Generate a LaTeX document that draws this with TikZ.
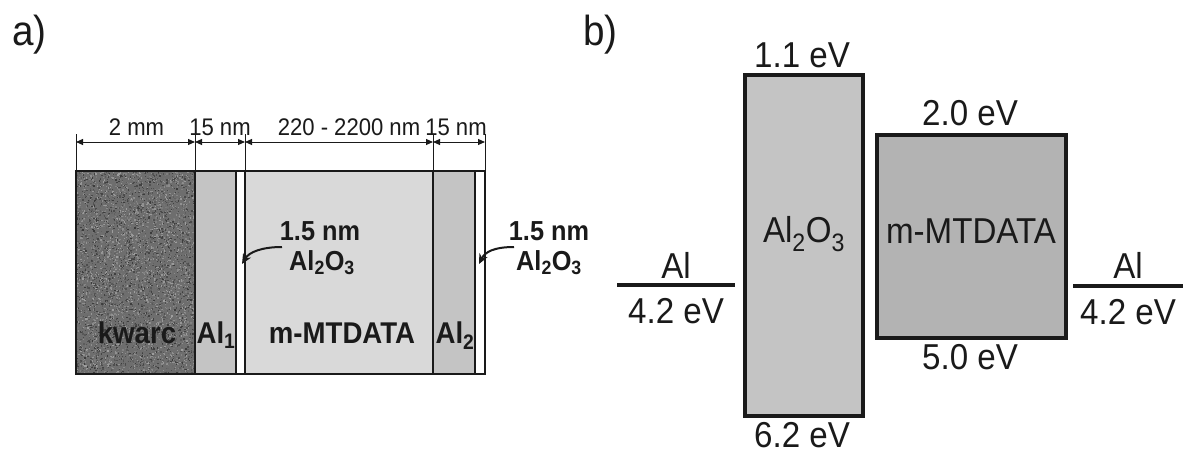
\documentclass[tikz,border=0pt]{standalone}
\usepackage{fontspec}
\usepackage{graphicx}
\setmainfont{Liberation Sans}
\usetikzlibrary{arrows.meta}
\definecolor{ink}{HTML}{1A1A1A}
\definecolor{alA}{HTML}{C4C4C4}
\definecolor{mtA}{HTML}{D9D9D9}
\definecolor{mtB}{HTML}{B3B3B3}
\newcommand{\nar}[1]{\scalebox{0.92}[1]{#1}}
\tikzset{
  layer/.style={draw=none, inner sep=0pt, outer sep=0pt},
  boxb/.style={draw=ink, line width=4pt, inner sep=0pt, outer sep=0pt},
  panlab/.style={font=\fontsize{42}{46}\selectfont, anchor=base west, inner sep=0pt, text=ink},
  blab/.style={font=\fontsize{36}{40}\selectfont, anchor=base, inner sep=0pt, text=ink},
  alab/.style={font=\fontsize{30}{33}\selectfont\bfseries, anchor=base, inner sep=0pt, text=ink},
  annlab/.style={font=\fontsize{27.5}{30}\selectfont\bfseries, anchor=base, inner sep=0pt, text=ink},
  dimlab/.style={font=\fontsize{24}{26}\selectfont, anchor=base, inner sep=0pt, text=ink},
  dimarrow/.style={draw=ink, line width=1pt, {Triangle[length=7pt,width=6pt]}-{Triangle[length=7pt,width=6pt]}},
  extline/.style={draw=ink, line width=1pt},
  sepline/.style={draw=ink, line width=2pt},
  annarrow/.style={draw=ink, line width=2pt, -{Stealth[length=10pt,width=9pt]}},
  level/.style={draw=ink, line width=4pt},
}
\begin{document}
\begin{tikzpicture}[x=1pt,y=-1pt]
\useasboundingbox (0,0) rectangle (1183,455);
\fill[white] (0,0) rectangle (1183,455);

% ---------- panel a ----------
\node[panlab] (pa) at (12,45) {\nar{a)}};

\node[layer, fill=black!57, minimum width=119pt, minimum height=203pt] (kw) at (135.5,272.5) {};
\begin{scope}
\clip (76,171) rectangle (195,374);
\pgfmathsetseed{7}
\foreach \i in {1,...,6000}{
  \pgfmathsetmacro{\rx}{75+120*rnd}
  \pgfmathsetmacro{\ry}{170+204*rnd}
  \pgfmathsetmacro{\rg}{int(38+40*rnd)}
  \fill[black!\rg] (\rx,\ry) rectangle ++(1.3,1.3);
}
\end{scope}
\node[layer, fill=alA, minimum width=41pt, minimum height=203pt] (al1) at (215.5,272.5) {};
\node[layer, fill=mtA, minimum width=188pt, minimum height=203pt] (mt) at (339,272.5) {};
\node[layer, fill=alA, minimum width=42pt, minimum height=203pt] (al2) at (454,272.5) {};

\draw[sepline] (195,171) -- (195,374);
\draw[sepline] (236,171) -- (236,374);
\draw[sepline] (245,171) -- (245,374);
\draw[sepline] (433,171) -- (433,374);
\draw[draw=ink, line width=1.6pt] (475,171) -- (475,374);
\draw[draw=ink, line width=2.4pt] (76,171) rectangle (485,374);

% dimension lines
\foreach \x/\n in {76/d0,195/d1,245/d2,433/d3,485/d4}{
  \draw[extline] (\x,134) -- (\x,171);
  \coordinate (\n) at (\x,142);
}
\draw[dimarrow] (d0) -- (d1);
\draw[dimarrow] (d1) -- (d2);
\draw[dimarrow] (d2) -- (d3);
\draw[dimarrow] (d3) -- (d4);
\node[dimlab] (t0) at (136.5,135) {\nar{2 mm}};
\node[dimlab] (t1) at (220,135) {\nar{15 nm}};
\node[dimlab] (t2) at (349,135) {\nar{220 - 2200 nm}};
\node[dimlab] (t3) at (456,135) {\nar{15 nm}};

% layer labels
\node[alab] (lkw) at (137,343) {\nar{kwarc}};
\node[alab] (lal1) at (216,343) {\nar{Al\textsubscript{1}}};
\node[alab] (lmt) at (342,343) {\nar{m-MTDATA}};
\node[alab] (lal2) at (455,343) {\nar{Al\textsubscript{2}}};

% annotations
\node[annlab] (n1a) at (320,240) {\nar{1.5 nm}};
\node[annlab] (n1b) at (322,270) {\nar{Al\textsubscript{2}O\textsubscript{3}}};
\node[annlab] (n2a) at (549,240) {\nar{1.5 nm}};
\node[annlab] (n2b) at (549,270) {\nar{Al\textsubscript{2}O\textsubscript{3}}};
\coordinate (s1) at (282,247);
\coordinate (e1) at (242,264);
\coordinate (s2) at (514,247);
\coordinate (e2) at (479,264);
\draw[annarrow] (s1) .. controls (262,247) and (249,252) .. (e1);
\draw[annarrow] (s2) .. controls (494,247) and (485,252) .. (e2);

% ---------- panel b ----------
\node[panlab] (pb) at (583,45) {\nar{b)}};

\node[boxb, fill=alA, minimum width=118pt, minimum height=341pt] (ox) at (804,245.5) {};
\node[boxb, fill=mtB, minimum width=189pt, minimum height=203pt] (org) at (971.5,236.5) {};

\coordinate (l1) at (617,285);
\coordinate (l2) at (735,285);
\coordinate (r1) at (1073,286);
\coordinate (r2) at (1183,286);
\draw[level] (l1) -- (l2);
\draw[level] (r1) -- (r2);

\node[blab] (b11) at (802,67) {\nar{1.1 eV}};
\node[blab] (b62) at (802,447) {\nar{6.2 eV}};
\node[blab] (box) at (804,242) {\nar{Al\textsubscript{2}O\textsubscript{3}}};
\node[blab] (b20) at (970,125) {\nar{2.0 eV}};
\node[blab] (b50) at (970,369) {\nar{5.0 eV}};
\node[blab] (bmt) at (971,243) {\nar{m-MTDATA}};
\node[blab] (bal1) at (676,278) {\nar{Al}};
\node[blab] (bw1) at (676,323) {\nar{4.2 eV}};
\node[blab] (bal2) at (1128,278) {\nar{Al}};
\node[blab] (bw2) at (1128,324) {\nar{4.2 eV}};
\end{tikzpicture}
\end{document}
